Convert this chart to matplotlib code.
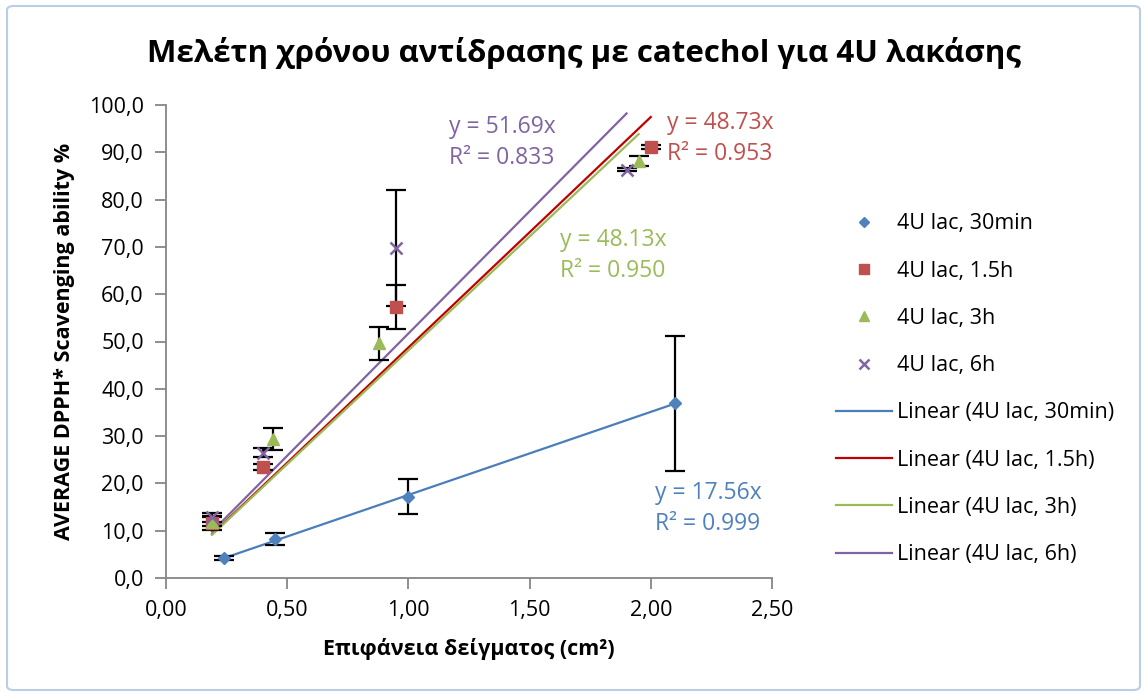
# -*- coding: utf-8 -*-

import numpy as np
import matplotlib.pyplot as plt
from matplotlib.patches import FancyBboxPatch
from matplotlib.ticker import FuncFormatter

plt.rcParams['font.family'] = ['Open Sans', 'Noto Sans', 'DejaVu Sans']

# επιφάνεια δείγματος (cm2) και μέσες τιμές / σφάλματα ανά σειρά
x_30min = [0.24, 0.45, 1.00, 2.10]
y_30min = [4.2, 8.2, 17.2, 36.9]
e_30min = [0.5, 1.3, 3.7, 14.2]

x_15h = [0.19, 0.40, 0.95, 2.00]
y_15h = [11.6, 23.5, 57.3, 91.1]
e_15h = [1.5, 0.6, 4.7, 0.4]

x_3h = [0.19, 0.44, 0.88, 1.95]
y_3h = [11.9, 29.4, 49.6, 88.2]
e_3h = [1.0, 2.3, 3.5, 1.1]

x_6h = [0.19, 0.40, 0.95, 1.90]
y_6h = [12.8, 26.5, 69.8, 86.3]
e_6h = [1.0, 1.0, 12.2, 0.3]

labels = ['4U lac, 30min', '4U lac, 1.5h', '4U lac, 3h', '4U lac, 6h']
slopes = [17.56, 48.73, 48.13, 51.69]
r2 = [0.999, 0.953, 0.950, 0.833]

xs = [x_30min, x_15h, x_3h, x_6h]
ys = [y_30min, y_15h, y_3h, y_6h]
es = [e_30min, e_15h, e_3h, e_6h]

mark_col = ['#4F81BD', '#C0504D', '#9BBB59', '#8064A2']
line_col = ['#4A7EBB', '#C00000', '#9BBB59', '#8064A2']
markers = ['D', 's', '^', 'x']
msizes = [6, 8, 8, 8]

W, H = 1147, 696
fig = plt.figure(figsize=(W / 100, H / 100), dpi=100)
ax = fig.add_axes([166 / W, 1 - 578 / H, (772 - 166) / W, (578 - 105) / H])

# trendlines (through origin) + points
line_handles = []
for i in range(4):
    xx = np.array([min(xs[i]), max(xs[i])])
    ln, = ax.plot(xx, slopes[i] * xx, color=line_col[i], lw=1.6, zorder=2,
                  label='Linear (' + labels[i] + ')')
    line_handles.append(ln)

pt_handles = []
for i in range(4):
    ax.errorbar(xs[i], ys[i], yerr=es[i], fmt='none', ecolor='black',
                elinewidth=1.6, capsize=7, capthick=1.6, zorder=3)
    kw = dict(mew=1.8) if markers[i] == 'x' else dict(mec=mark_col[i])
    h, = ax.plot(xs[i], ys[i], ls='none', marker=markers[i], ms=msizes[i],
                 color=mark_col[i], zorder=4, label=labels[i], **kw)
    pt_handles.append(h)

ax.set_xlim(0, 2.5)
ax.set_ylim(0, 100)
ax.set_xticks(np.arange(0, 2.51, 0.5))
ax.set_yticks(np.arange(0, 101, 10))
ax.xaxis.set_major_formatter(FuncFormatter(lambda v, p: ('%.2f' % v).replace('.', ',')))
ax.yaxis.set_major_formatter(FuncFormatter(lambda v, p: ('%.1f' % v).replace('.', ',')))
for s in ['top', 'right']:
    ax.spines[s].set_visible(False)
for s in ['left', 'bottom']:
    ax.spines[s].set_color('#868686')
    ax.spines[s].set_linewidth(1.3)
ax.tick_params(direction='out', length=8, width=1.3, color='#868686',
               labelsize=15.5, labelcolor='black', pad=8)

ax.set_xlabel('Επιφάνεια δείγματος (cm²)', fontsize=15.5, fontweight='bold', labelpad=12)
ax.set_ylabel('AVERAGE DPPH* Scavenging ability %', fontsize=15.5, fontweight='bold', labelpad=10)
fig.text(584 / W, 1 - 53 / H, 'Μελέτη χρόνου αντίδρασης με catechol για 4U λακάσης',
         ha='center', va='center', fontsize=22.5, fontweight='bold')

# equations
eq_pos = [(655, 493), (667, 123), (560, 240), (449, 127)]
for i in range(4):
    px, py = eq_pos[i]
    fig.text(px / W, 1 - py / H, 'y = %.2fx' % slopes[i], color=mark_col[i],
             fontsize=16.5, va='center', ha='left')
    fig.text(px / W, 1 - (py + 31) / H, 'R² = %.3f' % r2[i], color=mark_col[i],
             fontsize=16.5, va='center', ha='left')

leg = fig.legend(pt_handles + line_handles, labels + ['Linear (' + l + ')' for l in labels],
                 loc='upper left', bbox_to_anchor=(817 / W, 1 - 194 / H), frameon=False,
                 fontsize=15.5, handlelength=2.6, labelspacing=1.22, handletextpad=0.2,
                 markerscale=0.85)

fig.patches.append(FancyBboxPatch((7 / W, 6 / H), (W - 14) / W, (H - 12) / H,
                                  boxstyle='round,pad=0,rounding_size=0.006',
                                  transform=fig.transFigure, fill=False,
                                  edgecolor='#B9CDE5', lw=1.5))

plt.savefig('out.png', dpi=100)
